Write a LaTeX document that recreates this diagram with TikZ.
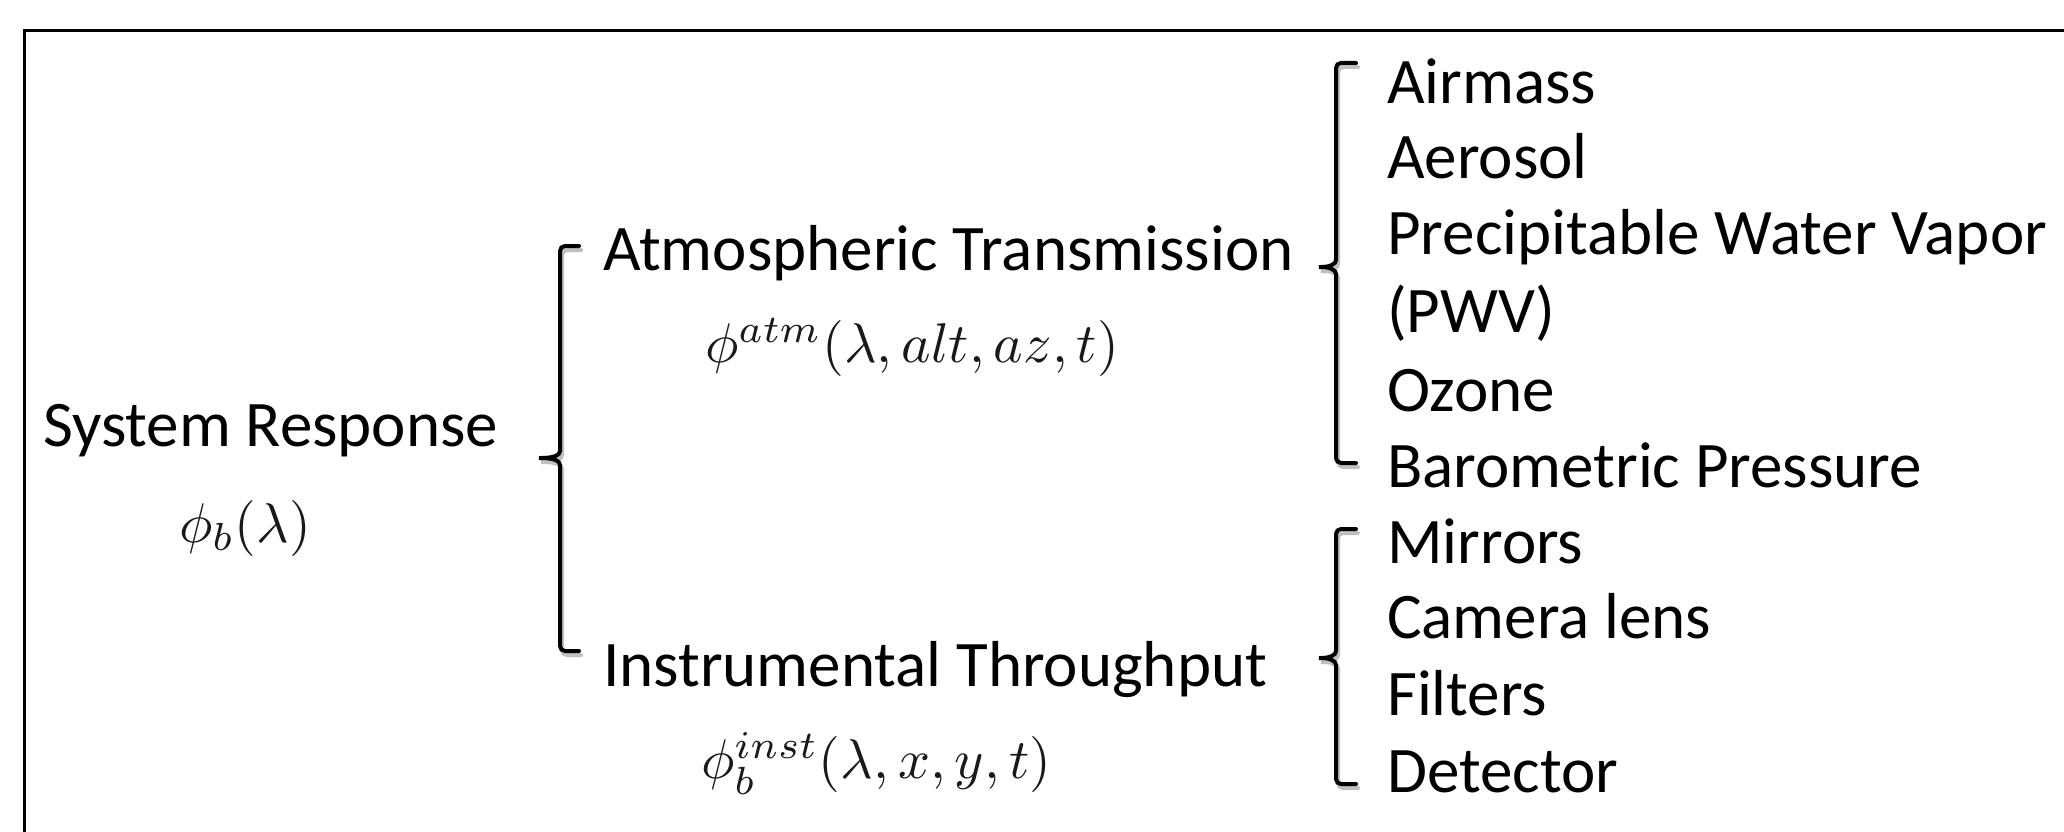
\documentclass[tikz,border=0pt]{standalone}
\usepackage{fontspec}
\setmainfont{Carlito}
\begin{document}
\begin{tikzpicture}[x=1pt,y=-1pt,
  lbl/.style={font=\fontsize{65}{78}\selectfont, inner sep=0pt, anchor=mid west},
  formula/.style={font=\normalsize, scale=5.6, text=black!90, inner sep=0pt, anchor=mid west},
  bracket/.style={line width=4pt, rounded corners=5pt, line cap=round},
  bshadow/.style={bracket, draw=black!25, shift={(2pt,-4pt)}}]
\useasboundingbox (0,0) rectangle (2064,832);
\clip (0,0) rectangle (2064,832);
\fill[white] (0,0) rectangle (2064,832);
% outer frame, running off the right and bottom edges
\draw[line width=3pt] (24,900) -- (24,31) -- (2200,31);

% labels
\node[lbl] (sys) at (43,444) {System Response};
\node[formula] (phib) at (178,529) {$\phi_b(\lambda)$};
\node[lbl] (atm) at (603,268) {Atmospheric Transmission};
\node[formula] (phiatm) at (704,349) {$\phi^{atm}(\lambda,alt,az,t)$};
\node[lbl] (inst) at (603,684) {Instrumental Throughput};
\node[formula] (phiinst) at (700,765) {$\phi_b^{inst}(\lambda,x,y,t)$};

\node[lbl] (air) at (1387,101) {Airmass};
\node[lbl] (aer) at (1387,176) {Aerosol};
\node[lbl] (pwv) at (1387,252) {Precipitable Water Vapor};
\node[lbl] (pwvb) at (1387,330) {(PWV)};
\node[lbl] (ozo) at (1387,409) {Ozone};
\node[lbl] (bar) at (1387,485) {Barometric Pressure};

\node[lbl] (mir) at (1387,561) {Mirrors};
\node[lbl] (cam) at (1387,636) {Camera lens};
\node[lbl] (fil) at (1387,713) {Filters};
\node[lbl] (det) at (1387,790) {Detector};

% grouping brackets: hook x, spine x, tip x, top y, bottom y, tip y
\newcommand\grpbracket[7]{%
  \draw[#1] (#2,#5) -- (#3,#5) -- (#3,#7-12)
    .. controls (#3,#7-3) and (#3-6,#7) .. (#4,#7)
    .. controls (#3-6,#7) and (#3,#7+3) .. (#3,#7+12)
    -- (#3,#6) -- (#2,#6);}
\grpbracket{bshadow}{579}{560}{536}{246}{651}{458}
\grpbracket{bracket}{579}{560}{536}{246}{651}{458}
\grpbracket{bshadow}{1356}{1336}{1316}{63}{463}{267}
\grpbracket{bracket}{1356}{1336}{1316}{63}{463}{267}
\grpbracket{bshadow}{1356}{1336}{1316}{529}{784}{658}
\grpbracket{bracket}{1356}{1336}{1316}{529}{784}{658}
\end{tikzpicture}
\end{document}
